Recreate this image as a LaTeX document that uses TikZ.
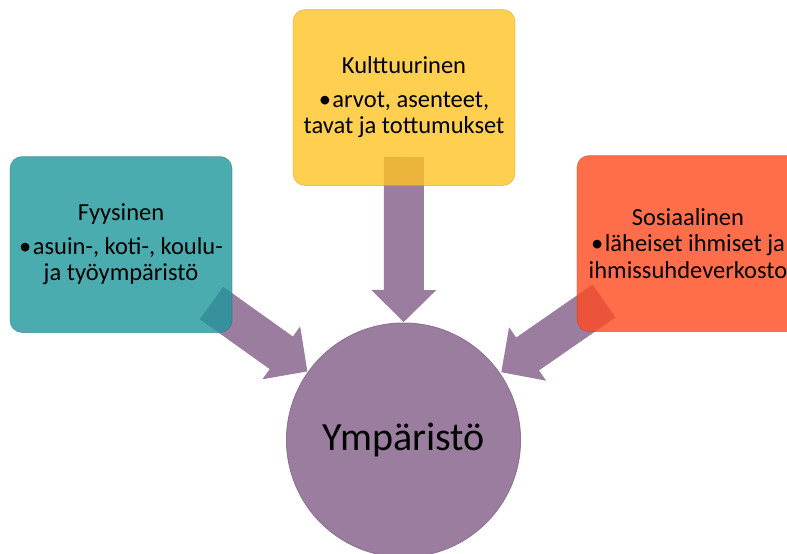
\documentclass[tikz,border=0pt]{standalone}
\usepackage{fontspec}
\setmainfont{Carlito}
\usetikzlibrary{calc,positioning}

\definecolor{fyyscol}{RGB}{30,151,156}
\definecolor{kultcol}{RGB}{255,196,36}
\definecolor{sosicol}{RGB}{255,74,30}
\definecolor{ympcol}{RGB}{155,125,160}

\tikzset{
  box/.style={rounded corners=12pt, minimum width=222pt, minimum height=176pt,
    inner sep=0pt, fill opacity=0.8, text opacity=1, align=center,
    font=\fontsize{24.5}{26.5}\selectfont},
  bigarrow/.style={fill=ympcol},
}

\begin{document}
\begin{tikzpicture}[x=1pt,y=-1pt]
\path[use as bounding box, clip] (0,0) rectangle (787,554);

% boxes first only as places, filled later over the arrows
\path (121,244.5) coordinate (fyys) (404,97.5) coordinate (kult) (688,243.5) coordinate (sosi);
\node[circle, fill=ympcol, draw=ympcol!92!black, line width=1pt, minimum size=234pt,
      inner sep=0pt, font=\fontsize{40}{44}\selectfont] (ymp) at (403.5,440) {Ympäristö};

\coordinate (fyysA) at ($(fyys)+(90.5,58.5)$);
\coordinate (kultA) at ($(kult)+(0,59.5)$);
\coordinate (sosiA) at ($(sosi)+(-84,57.5)$);
\coordinate (fyysB) at ($(ymp.center)!118pt!(fyysA)$);
\coordinate (kultB) at ($(ymp.center)!118pt!(kultA)$);
\coordinate (sosiB) at ($(ymp.center)!119pt!(sosiA)$);

\foreach \from/\to in {fyysA/fyysB, kultA/kultB, sosiA/sosiB}
    \fill[bigarrow] let \p1=($(\to)-(\from)$), \n1={atan2(\y1,\x1)}, \n2={veclen(\x1,\y1)} in
      [shift={(\from)}, rotate=\n1]
      (0,20) -- (\n2-32,20) -- (\n2-32,32.5) -- (\n2,0) -- (\n2-32,-32.5) -- (\n2-32,-20) -- (0,-20) -- cycle;

\foreach \name/\col/\txt in
    {fyys/fyyscol/{Fyysinen\\[7pt]•\hspace{1.5pt}asuin-, koti-, koulu-\\ja työympäristö},
     kult/kultcol/{Kulttuurinen\\[7pt]•\hspace{1.5pt}arvot, asenteet,\\tavat ja tottumukset},
     sosi/sosicol/{Sosiaalinen\\•\hspace{1.5pt}läheiset ihmiset ja\\ihmissuhdeverkosto}}
    {
    \node[box, fill=\col, draw=\col!75!black, draw opacity=0.4, line width=0.8pt] (\name box) at (\name) {\txt};
    }

\end{tikzpicture}
\end{document}
